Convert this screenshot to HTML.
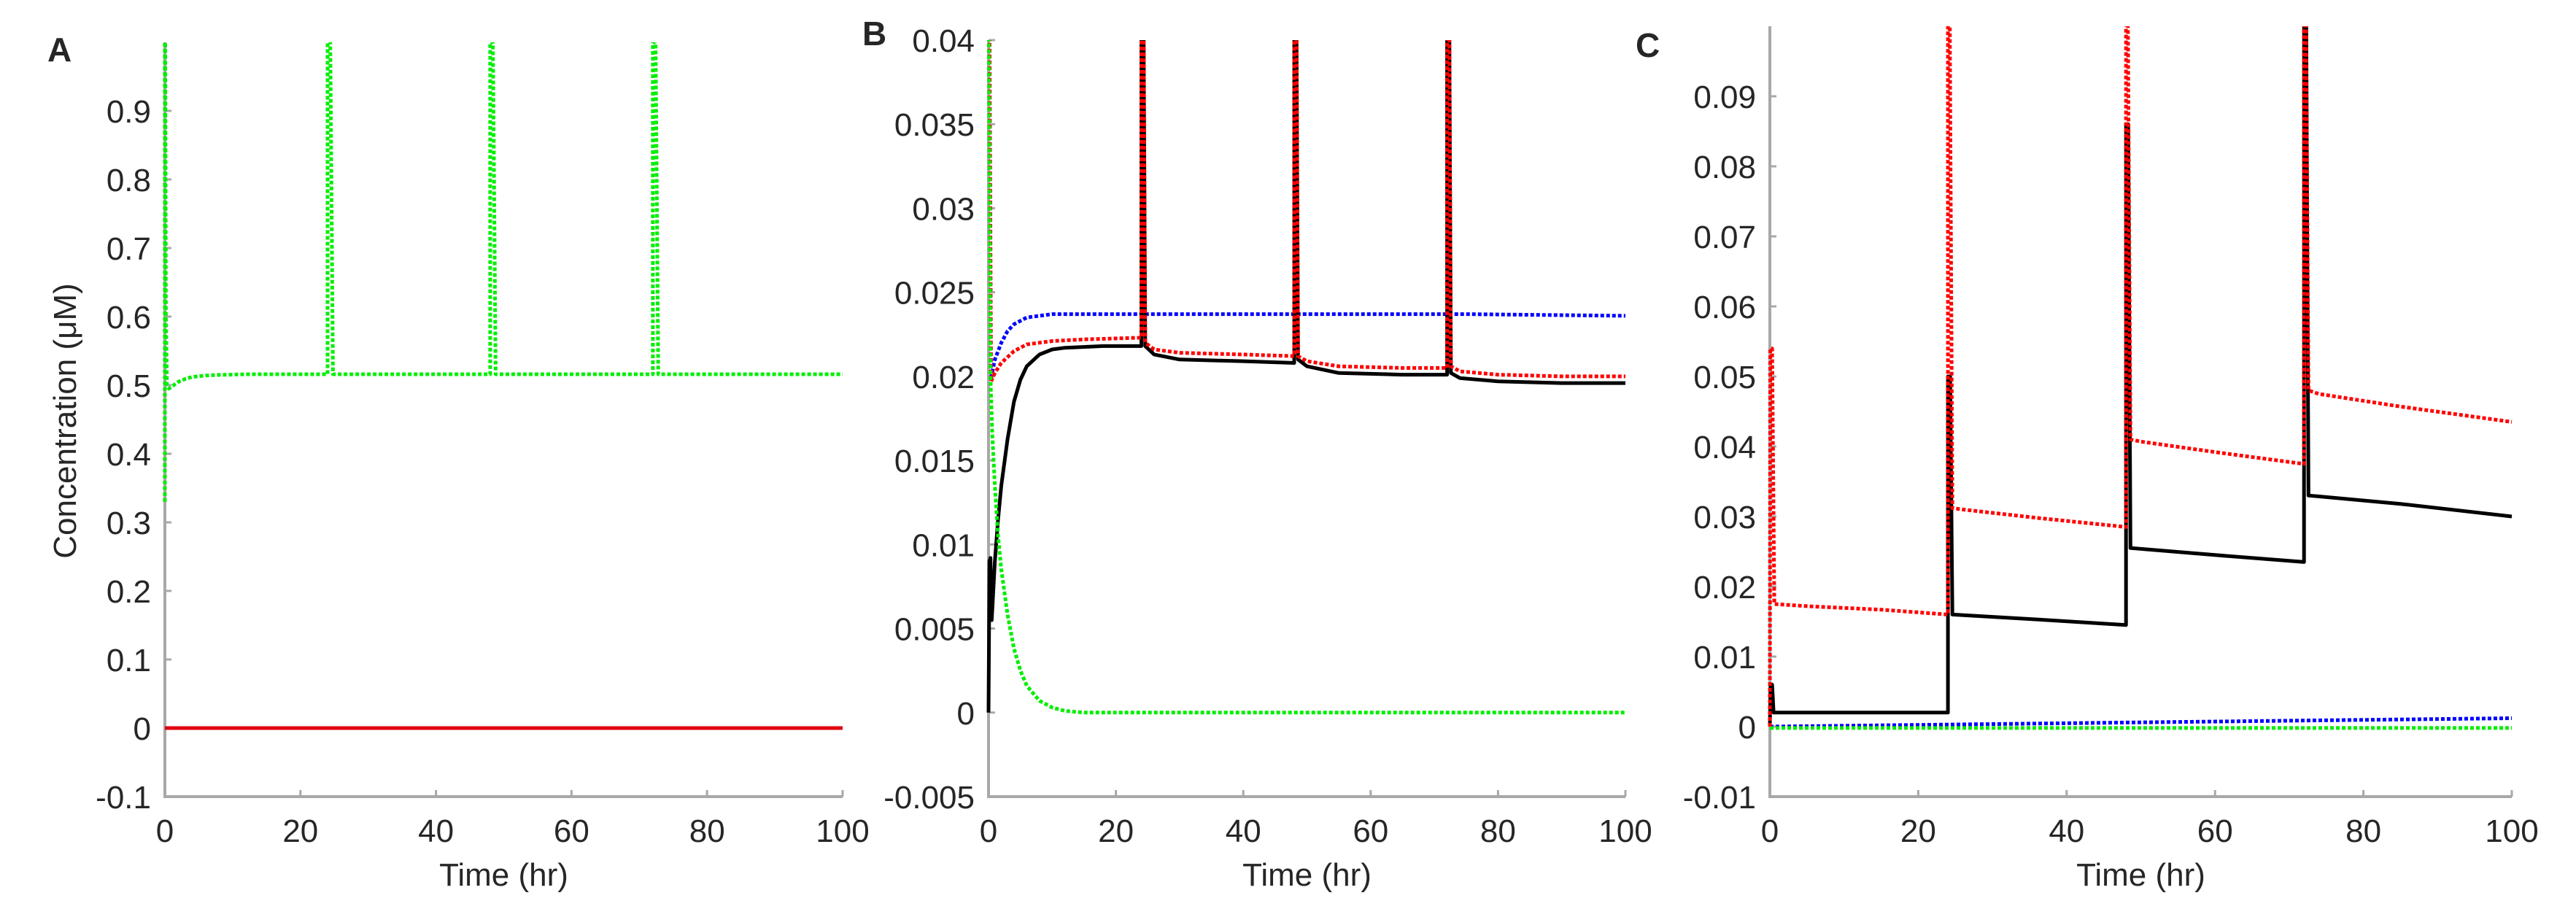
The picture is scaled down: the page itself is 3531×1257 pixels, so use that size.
<!DOCTYPE html>
<html><head><meta charset="utf-8"><style>
html,body{margin:0;padding:0;background:#fff;}
svg{display:block;}
text{font-family:"Liberation Sans",Arial,sans-serif;fill:#262626;}
</style></head><body>
<svg id="fig" width="3531" height="1257" viewBox="0 0 3531 1257" xmlns="http://www.w3.org/2000/svg"></svg>
<script>
// ---- Panel A data ----
const aGreenT = [0,0,0.05,0.15,0.3,0.6,1,2,3,4,6,8,12,18,24,24,24.4,24.8,30,40,48,48,48.4,48.8,60,72,72,72.4,72.8,85,100];
const aGreenY = [0.33,1.0,1.0,0.6,0.5,0.495,0.498,0.505,0.509,0.512,0.514,0.515,0.516,0.516,0.516,1.0,1.0,0.516,0.516,0.516,0.516,1.0,1.0,0.516,0.516,0.516,1.0,1.0,0.516,0.516,0.516];
const aRedT = [0,100];
const aRedY = [0,0];
const aYTicks = [-0.1,0,0.1,0.2,0.3,0.4,0.5,0.6,0.7,0.8,0.9];
const aYLabels = ["-0.1","0","0.1","0.2","0.3","0.4","0.5","0.6","0.7","0.8","0.9"];
// ---- Panel B data ----
const bGreenT = [0,0.3,0.6,1,1.5,2,3,4,5,6,8,10,12,15,20,100];
const bGreenY = [0.045,0.02,0.0165,0.0135,0.0105,0.0085,0.0058,0.0038,0.0025,0.0016,0.0007,0.0003,0.0001,0,0,0];
const bBlueT = [0.4,1,2,3,4,6,8,10,15,24,50,75,100];
const bBlueY = [0.0199,0.021,0.022,0.0227,0.0231,0.0235,0.0236,0.0237,0.0237,0.0237,0.0237,0.0237,0.0236];
const bRedT = [0,0.1,0.4,1,2,4,6,10,15,24,24,24.3,24.6,26,30,40,48,48,48.3,48.6,50,55,65,72,72,72.3,72.6,74,80,90,100];
const bRedY = [0.045,0.045,0.0197,0.0202,0.0208,0.0215,0.0219,0.0221,0.0222,0.0223,0.045,0.045,0.022,0.0216,0.0214,0.0213,0.0212,0.045,0.045,0.0212,0.0209,0.0206,0.0205,0.0205,0.045,0.045,0.0206,0.0203,0.0201,0.02,0.02];
const bBlackT = [0,0.15,0.3,0.5,1,1.5,2,3,4,5,6,8,10,12,18,24,24,24.3,24.6,26,30,40,48,48,48.3,48.6,50,55,65,72,72,72.3,72.6,74,80,90,100];
const bBlackY = [0,0.009,0.0092,0.0055,0.009,0.0115,0.0135,0.0163,0.0185,0.0198,0.0206,0.0213,0.0216,0.0217,0.0218,0.0218,0.045,0.045,0.0218,0.0213,0.021,0.0209,0.0208,0.045,0.045,0.021,0.0206,0.0202,0.0201,0.0201,0.045,0.045,0.0202,0.0199,0.0197,0.0196,0.0196];
const bYTicks = [-0.005,0,0.005,0.01,0.015,0.02,0.025,0.03,0.035,0.04];
const bYLabels = ["-0.005","0","0.005","0.01","0.015","0.02","0.025","0.03","0.035","0.04"];
// ---- Panel C data ----
const cRedT = [0,0.05,0.3,0.6,5,15,24,24,24.2,24.6,26,36,48,48,48.2,48.6,50,60,72,72,72.2,72.6,74,85,100];
const cRedY = [0,0.054,0.054,0.0175,0.0172,0.0167,0.016,0.11,0.11,0.0312,0.031,0.0298,0.0285,0.11,0.11,0.041,0.0407,0.0392,0.0375,0.11,0.11,0.048,0.0475,0.0457,0.0435];
const cBlackT = [0,0.1,0.3,0.5,10,24,24,24.3,24.6,36,48,48,48.3,48.6,60,72,72,72.3,72.6,85,100];
const cBlackY = [0,0.006,0.006,0.002,0.002,0.002,0.05,0.05,0.016,0.0153,0.0145,0.086,0.086,0.0255,0.0245,0.0235,0.1,0.1,0.033,0.0318,0.03];
const cBlueT = [0,50,100];
const cBlueY = [0,0.0006,0.0012];
const cGreenT = [0,100];
const cGreenY = [-0.0002,-0.0002];
const cYTicks = [-0.01,0,0.01,0.02,0.03,0.04,0.05,0.06,0.07,0.08,0.09];
const cYLabels = ["-0.01","0","0.01","0.02","0.03","0.04","0.05","0.06","0.07","0.08","0.09"];
const xTicks = [0,20,40,60,80,100];
const xLabels = ["0","20","40","60","80","100"];

const NS = "http://www.w3.org/2000/svg";
const svg = document.getElementById('fig');
function mk(tag, attrs, parent){
  const e = document.createElementNS(NS, tag);
  for (const k in attrs) e.setAttribute(k, attrs[k]);
  (parent||svg).appendChild(e);
  return e;
}

function panel(cfg){
  const g = mk('g', {});
  
  
  const xs = t => cfg.x0 + (t - 0) / 100 * (cfg.x1 - cfg.x0);
  const ys = v => cfg.yB + (v - cfg.ymin) / (cfg.ymax - cfg.ymin) * (cfg.yT - cfg.yB);
  const cp = mk('clipPath', {id: 'clip' + cfg.id}, g);
  mk('rect', {x: cfg.x0 - 4, y: cfg.yT, width: cfg.x1 - cfg.x0 + 8, height: cfg.yB - cfg.yT}, cp);
  const ax = mk('path', {d: `M${cfg.x0},${cfg.yT} V${cfg.yB} H${cfg.x1}`, fill: 'none', stroke: '#a8a8a8', 'stroke-width': 4}, g);
  
  
  cfg.yTicks.forEach((v, i) => {
    const y = ys(v);
    mk('line', {x1: cfg.x0, x2: cfg.x0 + 9, y1: y, y2: y, stroke: '#a8a8a8', 'stroke-width': 3}, g);
    const t = mk('text', {x: cfg.x0 - 19, y: y + 16, 'text-anchor': 'end', 'font-size': 44}, g);
    t.textContent = cfg.yLabels[i];
    
    
  });
  xTicks.forEach((v, i) => {
    const x = xs(v);
    mk('line', {x1: x, x2: x, y1: cfg.yB, y2: cfg.yB - 9, stroke: '#a8a8a8', 'stroke-width': 3}, g);
    const t = mk('text', {x: x, y: 1154, 'text-anchor': 'middle', 'font-size': 44}, g);
    t.textContent = xLabels[i];
    
    
  });
  const xt = mk('text', {x: (cfg.x0 + cfg.x1) / 2, y: 1214, 'text-anchor': 'middle', 'font-size': 44}, g);
  xt.textContent = 'Time (hr)';
  
  
  const pl = mk('text', {x: cfg.lx, y: cfg.ly, 'font-size': 46, 'font-weight': 'bold', fill: '#000'}, g);
  pl.textContent = cfg.id;
  
  
  const sg = mk('g', {'clip-path': `url(#clip${cfg.id})`}, g);
  cfg.series.forEach(s => {
    const d = s.t.map((t, i) => (i ? 'L' : 'M') + xs(t).toFixed(1) + ',' + ys(s.y[i]).toFixed(1)).join(' ');
    const p = mk('path', {d: d, fill: 'none', stroke: s.c, 'stroke-width': 5, 'stroke-linejoin': 'round'}, sg);
    if (s.dash) p.setAttribute('stroke-dasharray', '5 3');
    
    
  });
}

panel({id:'A', x0:226, x1:1155, yT:58, yB:1092, ymin:-0.1, ymax:1.0, yTicks:aYTicks, yLabels:aYLabels, lx:65, ly:84,
  series:[{name:'series-red-a', t:aRedT, y:aRedY, c:'#e00010'},{name:'series-green-a', t:aGreenT, y:aGreenY, c:'#00ee00', dash:true}]});
panel({id:'B', x0:1355, x1:2228, yT:55, yB:1092, ymin:-0.005, ymax:0.04, yTicks:bYTicks, yLabels:bYLabels, lx:1182, ly:62,
  series:[{name:'series-blue-b', t:bBlueT, y:bBlueY, c:'#0000ff', dash:true},{name:'series-black-b', t:bBlackT, y:bBlackY, c:'#000'},{name:'series-red-b', t:bRedT, y:bRedY, c:'#ff0000', dash:true},{name:'series-green-b', t:bGreenT, y:bGreenY, c:'#00ee00', dash:true}]});
panel({id:'C', x0:2426, x1:3443, yT:36, yB:1092, ymin:-0.01, ymax:0.1, yTicks:cYTicks, yLabels:cYLabels, lx:2242, ly:78,
  series:[{name:'series-blue-c', t:cBlueT, y:cBlueY, c:'#0000ff', dash:true},{name:'series-green-c', t:cGreenT, y:cGreenY, c:'#00ee00', dash:true},{name:'series-black-c', t:cBlackT, y:cBlackY, c:'#000'},{name:'series-red-c', t:cRedT, y:cRedY, c:'#ff0000', dash:true}]});

const yl = mk('text', {x: 0, y: 0, 'text-anchor': 'middle', 'font-size': 44, transform: 'translate(104,577) rotate(-90)'});
yl.textContent = 'Concentration (\u03BCM)';


</script>
</body></html>
